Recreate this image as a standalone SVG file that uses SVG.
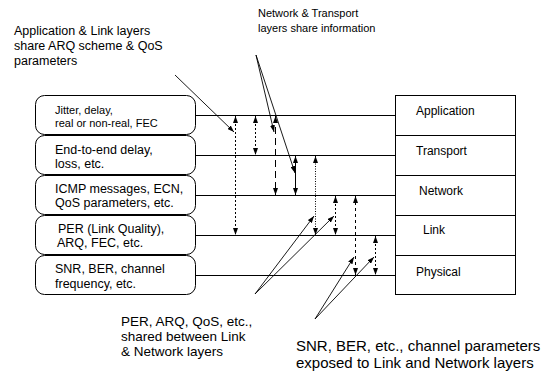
<svg xmlns="http://www.w3.org/2000/svg" width="546" height="379" viewBox="0 0 546 379">
<style>
text{font-family:"Liberation Sans",Arial,sans-serif;fill:#000}
.box{fill:#fff;stroke:#000;stroke-width:1}
.ln{stroke:#000;stroke-width:1;fill:none}
.v{stroke:#000;stroke-width:1;fill:none;marker-start:url(#ah);marker-end:url(#ah)}
.c{stroke:#000;stroke-width:0.9;fill:none;marker-end:url(#ah)}
.t12{font-size:12.5px}
.t11{font-size:11px}
.tr{font-size:12px}
</style>
<defs>
<marker id="ah" viewBox="0 0 7 5" refX="7" refY="2.5" markerWidth="7" markerHeight="5" markerUnits="userSpaceOnUse" orient="auto-start-reverse">
<path d="M0,0 L7,2.5 L0,5 z" fill="#000"/>
</marker>
</defs>
<rect width="546" height="379" fill="#fff"/>
<g id="left-app"><rect class="box" x="35.5" y="95.5" width="160" height="39" rx="9"/><text class="t11" x="55" y="114">Jitter, delay,</text><text class="t11" x="55" y="127">real or non-real, FEC</text></g>
<g id="left-trans"><rect class="box" x="35.5" y="135.5" width="160" height="39" rx="9"/><text class="t12" x="55" y="154">End-to-end delay,</text><text class="t12" x="55" y="168">loss, etc.</text></g>
<g id="left-net"><rect class="box" x="35.5" y="175.5" width="160" height="39" rx="9"/><text class="t12" x="55" y="193">ICMP messages, ECN,</text><text class="t12" x="55" y="207">QoS parameters, etc.</text></g>
<g id="left-link"><rect class="box" x="35.5" y="215.5" width="160" height="39" rx="9"/><text class="t12" x="58" y="233">PER (Link Quality),</text><text class="t12" x="57" y="247">ARQ, FEC, etc.</text></g>
<g id="left-phy"><rect class="box" x="35.5" y="255.5" width="160" height="39" rx="9"/><text class="t12" x="55" y="273">SNR, BER, channel</text><text class="t12" x="55" y="288">frequency, etc.</text></g>
<g id="layer-app"><rect class="box" x="395.5" y="95.5" width="120" height="40"/><text class="tr" x="416" y="115">Application</text></g>
<g id="layer-trans"><rect class="box" x="395.5" y="135.5" width="120" height="40"/><text class="tr" x="416" y="155">Transport</text></g>
<g id="layer-net"><rect class="box" x="395.5" y="175.5" width="120" height="40"/><text class="tr" x="419" y="195">Network</text></g>
<g id="layer-link"><rect class="box" x="395.5" y="215.5" width="120" height="40"/><text class="tr" x="423" y="234">Link</text></g>
<g id="layer-phy"><rect class="box" x="395.5" y="255.5" width="120" height="39"/><text class="tr" x="416" y="276">Physical</text></g>
<g id="note-applink"><text class="t12" x="14" y="35">Application &amp; Link layers</text><text class="t12" x="14" y="50">share ARQ scheme &amp; QoS</text><text class="t12" x="14" y="65">parameters</text></g>
<g id="note-nettrans"><text class="t11" x="258" y="17">Network &amp; Transport</text><text class="t11" x="258" y="32">layers share information</text></g>
<g id="note-linknet"><text style="font-size:13.5px" x="121" y="326">PER, ARQ, QoS, etc.,</text><text style="font-size:13.5px" x="121" y="341">shared between Link</text><text style="font-size:13.5px" x="121" y="356">&amp; Network layers</text></g>
<g id="note-phy"><text style="font-size:15px" x="296" y="351">SNR, BER, etc., channel parameters</text><text style="font-size:15px" x="296" y="368">exposed to Link and Network layers</text></g>
<g id="connectors">
<path class="ln" d="M196,115.5H395M196,155.5H395M196,195.5H395M196,235.5H395M196,275.5H395"/>
<line class="v" x1="235.5" y1="116" x2="235.5" y2="235" stroke-dasharray="2 2"/>
<line class="v" x1="255.5" y1="116" x2="255.5" y2="155" stroke-dasharray="2 2"/>
<line class="v" x1="275.5" y1="116" x2="275.5" y2="195" stroke-dasharray="7 4"/>
<line class="v" x1="295.5" y1="156" x2="295.5" y2="195"/>
<line class="v" x1="315.5" y1="156" x2="315.5" y2="235" stroke-dasharray="1 1.5"/>
<line class="v" x1="335.5" y1="196" x2="335.5" y2="235" stroke-dasharray="2 2"/>
<line class="v" x1="355.5" y1="196" x2="355.5" y2="275" stroke-dasharray="3 3"/>
<line class="v" x1="375.5" y1="236" x2="375.5" y2="275" stroke-dasharray="2 2"/>
<line class="c" x1="175" y1="75" x2="234" y2="132"/>
<line class="c" x1="256" y1="55" x2="274" y2="132"/>
<line class="c" x1="256" y1="55" x2="295" y2="173"/>
<line class="c" x1="255" y1="294" x2="314" y2="216"/>
<line class="c" x1="255" y1="294" x2="334" y2="216"/>
<line class="c" x1="315" y1="319" x2="354" y2="257"/>
<line class="c" x1="315" y1="319" x2="374" y2="257"/>
</g>
</svg>
